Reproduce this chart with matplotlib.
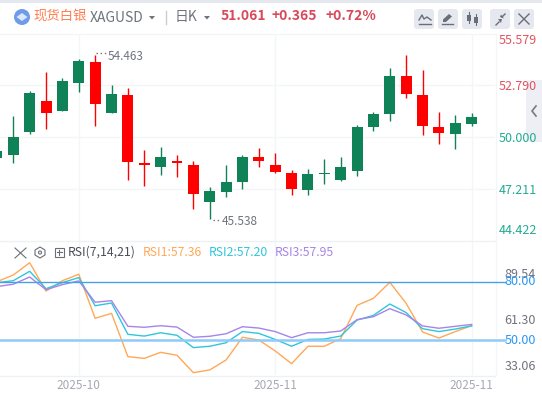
import matplotlib
matplotlib.use('Agg')
import matplotlib.pyplot as plt
from matplotlib.patches import Rectangle, Circle, FancyBboxPatch, Polygon

plt.rcParams['font.family'] = ['Noto Sans CJK SC', 'DejaVu Sans']

# candles: first one is cut off by the left edge
idx = list(range(-1, 29))
high = [49.24, 51.14, 52.49, 53.52, 53.19, 54.21, 54.463, 52.82, 52.64, 49.30,
        49.46, 49.03, 48.70, 47.29, 48.48, 49.03, 49.40, 49.13, 48.21, 48.27,
        48.81, 48.92, 50.63, 51.34, 53.74, 54.44, 53.63, 51.35, 51.19, 51.30]
low = [48.86, 48.61, 50.18, 50.45, 51.42, 52.45, 50.60, 51.32, 47.67, 47.35,
       47.94, 47.83, 46.10, 45.538, 46.75, 47.18, 48.38, 48.05, 46.86, 46.86,
       47.46, 47.62, 47.89, 50.32, 50.87, 52.11, 50.11, 49.62, 49.35, 50.60]
body_top = [49.24, 50.00, 52.38, 51.95, 53.03, 54.11, 54.06, 52.33, 52.27, 48.59,
            48.92, 48.70, 48.48, 47.08, 47.56, 48.92, 48.92, 48.48, 48.05, 48.00,
            48.03, 48.38, 50.54, 51.25, 53.30, 53.30, 52.27, 50.54, 50.76, 51.08]
body_bot = [48.86, 49.04, 50.27, 51.32, 51.42, 52.94, 51.80, 51.32, 48.65, 48.48,
            48.38, 48.59, 46.91, 46.48, 47.02, 47.56, 48.70, 48.11, 47.18, 47.13,
            48.00, 47.67, 48.16, 50.54, 51.25, 52.33, 50.60, 50.22, 50.16, 50.70]
is_up = [1, 1, 1, 0, 1, 1, 0, 1, 0, 0, 1, 0, 0, 1, 1, 1, 0, 0, 0, 1,
         1, 1, 1, 1, 1, 0, 0, 0, 1, 1]

rsi1 = [79.8, 83.2, 89.5, 75.0, 80.3, 83.6, 61.1, 63.6, 41.5, 40.6, 43.7, 42.2, 33.3, 34.7, 39.8,
        51.4, 50.0, 44.4, 37.9, 46.8, 46.8, 50.7, 67.7, 71.3, 79.5, 68.7, 54.1, 51.0, 54.3, 57.36]
rsi2 = [79.3, 80.3, 85.1, 76.2, 79.3, 81.9, 67.5, 68.9, 52.9, 52.0, 53.7, 52.4, 46.1, 46.8, 48.6,
        54.3, 53.4, 50.3, 46.8, 50.3, 50.5, 52.0, 60.2, 62.6, 68.4, 64.0, 55.8, 54.3, 55.6, 57.20]
rsi3 = [77.3, 78.5, 82.2, 75.7, 78.3, 80.2, 69.3, 70.1, 57.0, 56.5, 57.3, 56.6, 51.4, 51.9, 53.2,
        56.8, 56.1, 54.3, 51.2, 53.7, 53.7, 54.6, 60.4, 61.9, 66.0, 62.8, 57.2, 56.0, 57.0, 57.95]

price_ticks = [55.579, 52.790, 50.000, 47.211, 44.422]
rsi_labels = ['89.54', '80.00', '61.30', '50.00', '33.06']
date_idx = [4, 16, 28]
date_labels = ['2025-10', '2025-11', '2025-11']

GREEN = '#108257'
RED = '#ff0000'
GRID = '#f4f5f8'
W, H = 542, 396
XL = (-13.3 / 16.37, (495 - 13.3) / 16.37)


def px_axes(fig, left, top, right, bottom):
    return fig.add_axes([left / W, 1 - bottom / H, (right - left) / W, (bottom - top) / H])


fig = plt.figure(figsize=(5.42, 3.96), dpi=100)

# main chart
ax = px_axes(fig, 0, 34, 495, 240)
ax.set_xlim(*XL)
ax.set_ylim(44.422, 55.579)
for a in ['top', 'left', 'right', 'bottom']:
    ax.spines[a].set_visible(False)
ax.tick_params(length=0)
ax.set_xticks(date_idx)
ax.set_xticklabels([])
ax.set_yticks(price_ticks[1:4])
ax.yaxis.tick_right()
ax.set_yticklabels([])
ax.grid(color=GRID, lw=1)
ax.set_axisbelow(True)
for i, h, l, t, b, up in zip(idx, high, low, body_top, body_bot, is_up):
    c = GREEN if up else RED
    ax.vlines(i, l, h, color=c, lw=1)
    ax.bar(i, max(t - b, 0.05), bottom=b, width=0.67, color=c, linewidth=0)

# rsi panel
ax2 = px_axes(fig, 0, 240, 495, 375)
ax2.set_xlim(*XL)
ax2.set_ylim(50 - 35 / 1.957, 50 + 100 / 1.957)
for a in ['top', 'left', 'right', 'bottom']:
    ax2.spines[a].set_visible(False)
ax2.tick_params(length=0)
ax2.set_xticks(date_idx)
ax2.set_xticklabels(date_labels, color='#a6a9b2', fontsize=8.5)
ax2.tick_params(axis='x', pad=3)
ax2.set_yticks([])
ax2.grid(axis='x', color=GRID, lw=1)
ax2.set_axisbelow(True)
ax2.plot(idx, rsi1, color='#ffa858', lw=1)
ax2.plot(idx, rsi2, color='#2fc6dc', lw=1)
ax2.plot(idx, rsi3, color='#a685e8', lw=1)

# overlay in pixels for the header, labels and icons
ov = fig.add_axes([0, 0, 1, 1], zorder=5)
ov.set_xlim(0, W)
ov.set_ylim(H, 0)
ov.axis('off')
ov.patch.set_alpha(0)

ov.add_patch(Rectangle((0, 0), W, 3, color='#e6e8f0', lw=0))
ov.plot([0, 495], [33.5, 33.5], color=GRID, lw=1)
ov.plot([495.5, 495.5], [34, 375], color=GRID, lw=1)
ov.plot([0, 495], [240.5, 240.5], color='#eff0f3', lw=1)
ov.plot([0, 495], [375.5, 375.5], color='#eff0f3', lw=1)
ov.plot([0, 505], [281.5, 281.5], color='#4a9fe8', lw=1)
ov.plot([0, 505], [340, 340], color='#8fcbf8', lw=1.8)

# logo
ov.add_patch(Circle((22, 17), 8, color='#6f9be8', lw=0))
ov.add_patch(Polygon([[16.5, 17], [22, 13], [27.5, 17], [22, 21]], color='#dbe7fb', lw=0))

ov.text(33, 16, '现货白银', color='#ff7f50', fontsize=9.6, va='center')
ov.text(90, 18, 'XAGUSD', color='#6f737d', fontsize=10, va='center')
ov.add_patch(Polygon([[149, 16], [155, 16], [152, 19.5]], color='#6f737d', lw=0))
ov.plot([165.5, 165.5], [11, 24], color='#c9ccd3', lw=1)
ov.text(175, 16.5, '日K', color='#6f737d', fontsize=10, va='center')
ov.add_patch(Polygon([[204, 16], [210, 16], [207, 19.5]], color='#6f737d', lw=0))
ov.text(221, 16.5, '51.061', color='#d9495a', fontsize=10, fontweight='bold', va='center')
ov.text(272, 16.5, '+0.365', color='#d9495a', fontsize=10, fontweight='bold', va='center')
ov.text(326, 16.5, '+0.72%', color='#d9495a', fontsize=10, fontweight='bold', va='center')

# header buttons
for bx in [414, 438, 462, 490, 514]:
    ov.add_patch(FancyBboxPatch((bx + 2, 11), 16, 16, boxstyle='round,pad=2,rounding_size=3',
                                fc='#e6e8f0', ec='none'))
ic = '#6a6e78'
ov.plot([419, 422, 424, 427, 431], [20, 15, 19, 17, 20], color=ic, lw=1)
ov.plot([419, 431], [24, 24], color=ic, lw=1)
ov.add_patch(Polygon([[443, 22], [443, 19.5], [449, 14], [452, 16.5], [446, 22]], color=ic, lw=0))
ov.plot([442, 453], [24, 24], color=ic, lw=1)
ov.add_patch(Rectangle((467, 15), 4, 6, color=ic, lw=0))
ov.add_patch(Rectangle((474, 17), 4, 6, color=ic, lw=0))
ov.plot([469, 469], [12, 23], color=ic, lw=0.8)
ov.plot([476, 476], [14, 25], color=ic, lw=0.8)
ov.plot([496, 499], [25, 22], color=ic, lw=1)
ov.add_patch(Polygon([[498, 19], [501, 23], [502, 19]], color=ic, lw=0))
ov.plot([502, 505], [17, 14], color=ic, lw=1)
ov.add_patch(Polygon([[500, 17], [504, 18.5], [501, 14.5]], color=ic, lw=0))
ov.plot([519, 529], [14, 24], color=ic, lw=1)
ov.plot([519, 529], [24, 14], color=ic, lw=1)

# right side tab
ov.add_patch(FancyBboxPatch((528, 82), 20, 58, boxstyle='round,pad=2,rounding_size=4',
                            fc='#eeeff4', ec='none'))
ov.plot([536, 532, 536], [106, 111, 116], color='#757982', lw=1.2)

# extreme labels with their dotted leaders
ov.text(108, 56, '54.463', color='#6f737d', fontsize=8.5, va='center')
ov.text(222, 221.5, '45.538', color='#6f737d', fontsize=8.5, va='center')
ov.plot([96, 106], [53, 53], color='#6f737d', lw=1, ls=(0, (1, 2)))
ov.plot([213, 220], [219.5, 219.5], color='#6f737d', lw=1, ls=(0, (1, 2)))

# price labels, the outer two are pushed inside the panel
price_y = [41, 87, 138, 190, 231]
price_col = ['#e0545f', '#e0545f', '#22ab94', '#22ab94', '#22ab94']
for p, y, c in zip(price_ticks, price_y, price_col):
    ov.text(537, y, '%.3f' % p, color=c, fontsize=9, ha='right', va='center')

# rsi labels
rsi_y = [274, 281.5, 320, 340, 366]
rsi_col = ['#6f737d', '#2a96f3', '#6f737d', '#2a96f3', '#6f737d']
for s, y, c in zip(rsi_labels, rsi_y, rsi_col):
    ov.text(536, y, s, color=c, fontsize=9, ha='right', va='center')

# rsi legend row
ov.plot([15, 26], [248, 258], color=ic, lw=0.8)
ov.plot([15, 26], [258, 248], color=ic, lw=0.8)
ov.add_patch(Polygon([[35, 250], [40, 247], [45, 250], [45, 255], [40, 258], [35, 255]],
                     fc='none', ec=ic, lw=0.8))
ov.add_patch(Circle((40, 252.5), 1.5, fc='none', ec=ic, lw=0.8))
ov.add_patch(Rectangle((54.5, 247.5), 9, 9, fc='none', ec=ic, lw=0.8))
ov.plot([56.5, 61.5], [252, 252], color=ic, lw=0.8)
ov.plot([59, 59], [249.5, 254.5], color=ic, lw=0.8)
ov.text(68, 252, 'RSI(7,14,21)', color='#4a4e57', fontsize=8.8, va='center')
ov.text(143, 252, 'RSI1:57.36', color='#ffa858', fontsize=8.8, va='center')
ov.text(209, 252, 'RSI2:57.20', color='#2fc6dc', fontsize=8.8, va='center')
ov.text(275, 252, 'RSI3:57.95', color='#a685e8', fontsize=8.8, va='center')

fig.savefig('out.png', dpi=100)
